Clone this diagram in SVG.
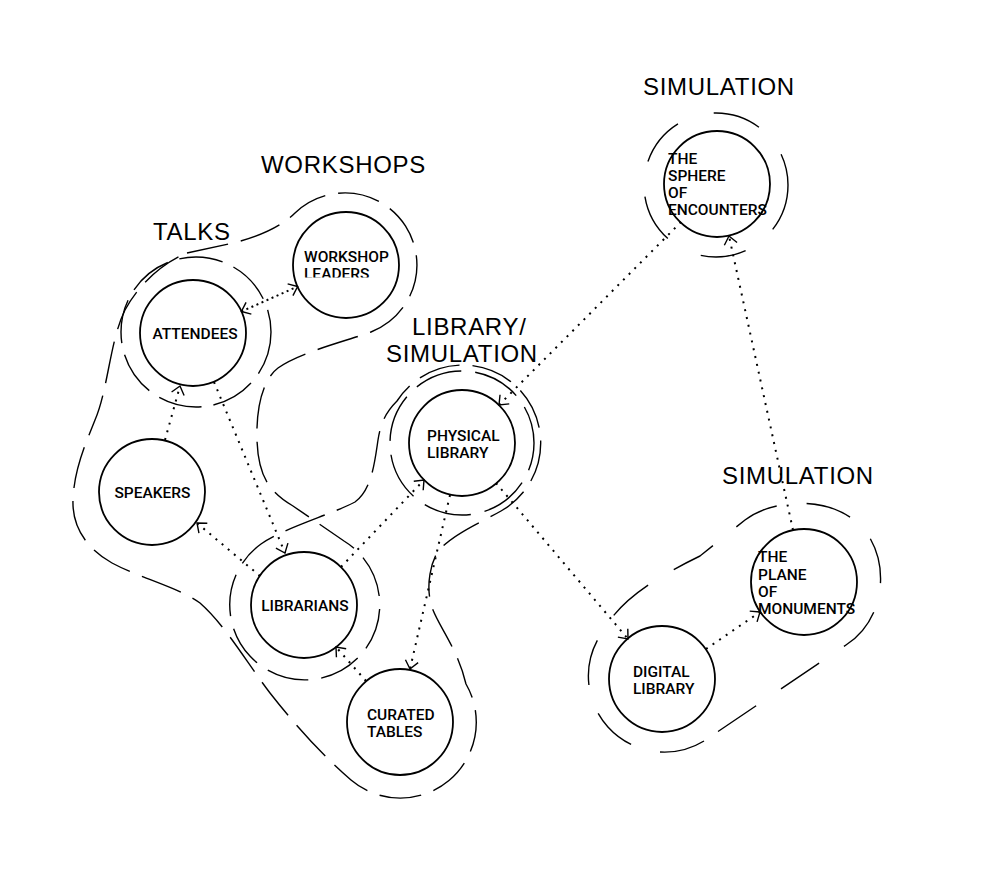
<svg xmlns="http://www.w3.org/2000/svg" width="982" height="879" viewBox="0 0 982 879">
<defs>
<style>
.node{fill:none;stroke:#000;stroke-width:1.8}
.lbl{font-family:Roboto,"Liberation Sans",Arial,sans-serif;font-weight:500;font-size:15.5px;fill:#000}
.grp{font-family:"Liberation Sans",Arial,sans-serif;font-size:24px;letter-spacing:0.7px;fill:#000}
.bnd{fill:none;stroke:#000;stroke-width:1.4;stroke-dasharray:42 13}
.conn{fill:none;stroke:#000;stroke-width:2;stroke-dasharray:2 6;marker-end:url(#ah)}
.dense{stroke-dasharray:2 3.5;marker-start:url(#ah)}
</style>
<marker id="ah" viewBox="-10 -8 12 16" refX="0" refY="0" markerWidth="12" markerHeight="16" markerUnits="userSpaceOnUse" orient="auto-start-reverse">
<path d="M-8,-6.5 L0,0 L-8,6.5" fill="none" stroke="#000" stroke-width="1.4"/>
</marker>
<clipPath id="clipWL"><rect x="290" y="240" width="120" height="37.5"/></clipPath>
</defs>
<rect width="982" height="879" fill="#fff"/>

<g id="boundaries">
<circle class="bnd" cx="196" cy="332" r="75" style="stroke-dasharray:44 12"/>
<circle class="bnd" cx="462" cy="443" r="72" style="stroke-dasharray:48 14;stroke-dashoffset:20"/>
<circle class="bnd" cx="716" cy="185" r="72" style="stroke-dasharray:47.8 34.6 45.9 37.3 48.6 35.6 48.9 37.7 48.3 35.2 32.7"/>
<path class="bnd" d="M187,253 L233,243 C262,236 283,225 295,213 A72,72 0 1 1 371,332 C350,340 300,352 278,368 C262,380 256,410 257,440 C258,470 265,490 293,506 L344,541 A75,75 0 1 1 261,544 C286,527 330,515 355,502 C372,490 375,460 378,440 C381,420 388,410 397,401 A78,78 0 1 1 501,511 C480,523 450,535 437,553 C430,565 425,590 433,610 C440,628 458,650 466,684 A76,76 0 0 1 351,780 C325,758 295,725 270,693 C245,660 225,625 200,603 C180,588 140,578 112,563 C85,548 72,525 73,500 C74,470 85,445 95,420 C108,390 110,340 125,310 C140,282 165,262 187,253 Z"/>
<path class="bnd" style="stroke-dasharray:46 30" d="M704,741 A76,76 0 0 1 604,630 C620,600 655,578 700,556 L745,520 C775,497 838,495 866,532 C890,565 885,620 846,645 Z"/>
</g>

<g id="group-labels">
<text class="grp" x="643" y="95">SIMULATION</text>
<text class="grp" x="261" y="173">WORKSHOPS</text>
<text class="grp" x="153" y="240">TALKS</text>
<text class="grp" x="412" y="335">LIBRARY/</text>
<text class="grp" x="386" y="362">SIMULATION</text>
<text class="grp" x="722" y="484">SIMULATION</text>
</g>

<g id="connectors">
<path class="conn dense" d="M241.4,311.5 L297.6,286.5"/>
<path class="conn" d="M165,440 L180,386"/>
<path class="conn" d="M214,382 L285,553"/>
<path class="conn" d="M260,576 L197,523"/>
<path class="conn" d="M341,567 L424,480"/>
<path class="conn" d="M450,495 L410,669"/>
<path class="conn" d="M366,681 L336,647"/>
<path class="conn" d="M681,222 L499,405"/>
<path class="conn" d="M496,483 L628,639"/>
<path class="conn" d="M706,649 L760,612"/>
<path class="conn" d="M793,530 L729,236"/>
</g>

<g id="n-attendees"><circle class="node" cx="193" cy="333" r="53"/><text class="lbl" x="195" y="339" text-anchor="middle">ATTENDEES</text></g>
<g id="n-workshop-leaders"><circle class="node" cx="346" cy="265" r="53"/><text class="lbl" clip-path="url(#clipWL)"><tspan x="304" y="262">WORKSHOP</tspan><tspan x="304" y="279">LEADERS</tspan></text></g>
<g id="n-speakers"><circle class="node" cx="152" cy="492" r="53"/><text class="lbl" x="152.5" y="498" text-anchor="middle">SPEAKERS</text></g>
<g id="n-librarians"><circle class="node" cx="304" cy="605" r="53"/><text class="lbl" x="305" y="611" text-anchor="middle">LIBRARIANS</text></g>
<g id="n-curated-tables"><circle class="node" cx="400" cy="722" r="53"/><text class="lbl"><tspan x="367" y="720">CURATED</tspan><tspan x="367" y="737">TABLES</tspan></text></g>
<g id="n-physical-library"><circle class="node" cx="462" cy="443" r="53"/><text class="lbl"><tspan x="427" y="441">PHYSICAL</tspan><tspan x="427" y="458">LIBRARY</tspan></text></g>
<g id="n-sphere"><circle class="node" cx="717" cy="184" r="53"/><text class="lbl"><tspan x="668" y="164">THE</tspan><tspan x="668" y="181">SPHERE</tspan><tspan x="668" y="197.5">OF</tspan><tspan x="668" y="215">ENCOUNTERS</tspan></text></g>
<g id="n-plane"><circle class="node" cx="804" cy="582" r="53"/><text class="lbl"><tspan x="758" y="562">THE</tspan><tspan x="758" y="579.5">PLANE</tspan><tspan x="758" y="597">OF</tspan><tspan x="758" y="614">MONUMENTS</tspan></text></g>
<g id="n-digital-library"><circle class="node" cx="662" cy="679" r="53"/><text class="lbl"><tspan x="633" y="676.5">DIGITAL</tspan><tspan x="633" y="693.5">LIBRARY</tspan></text></g>
</svg>
